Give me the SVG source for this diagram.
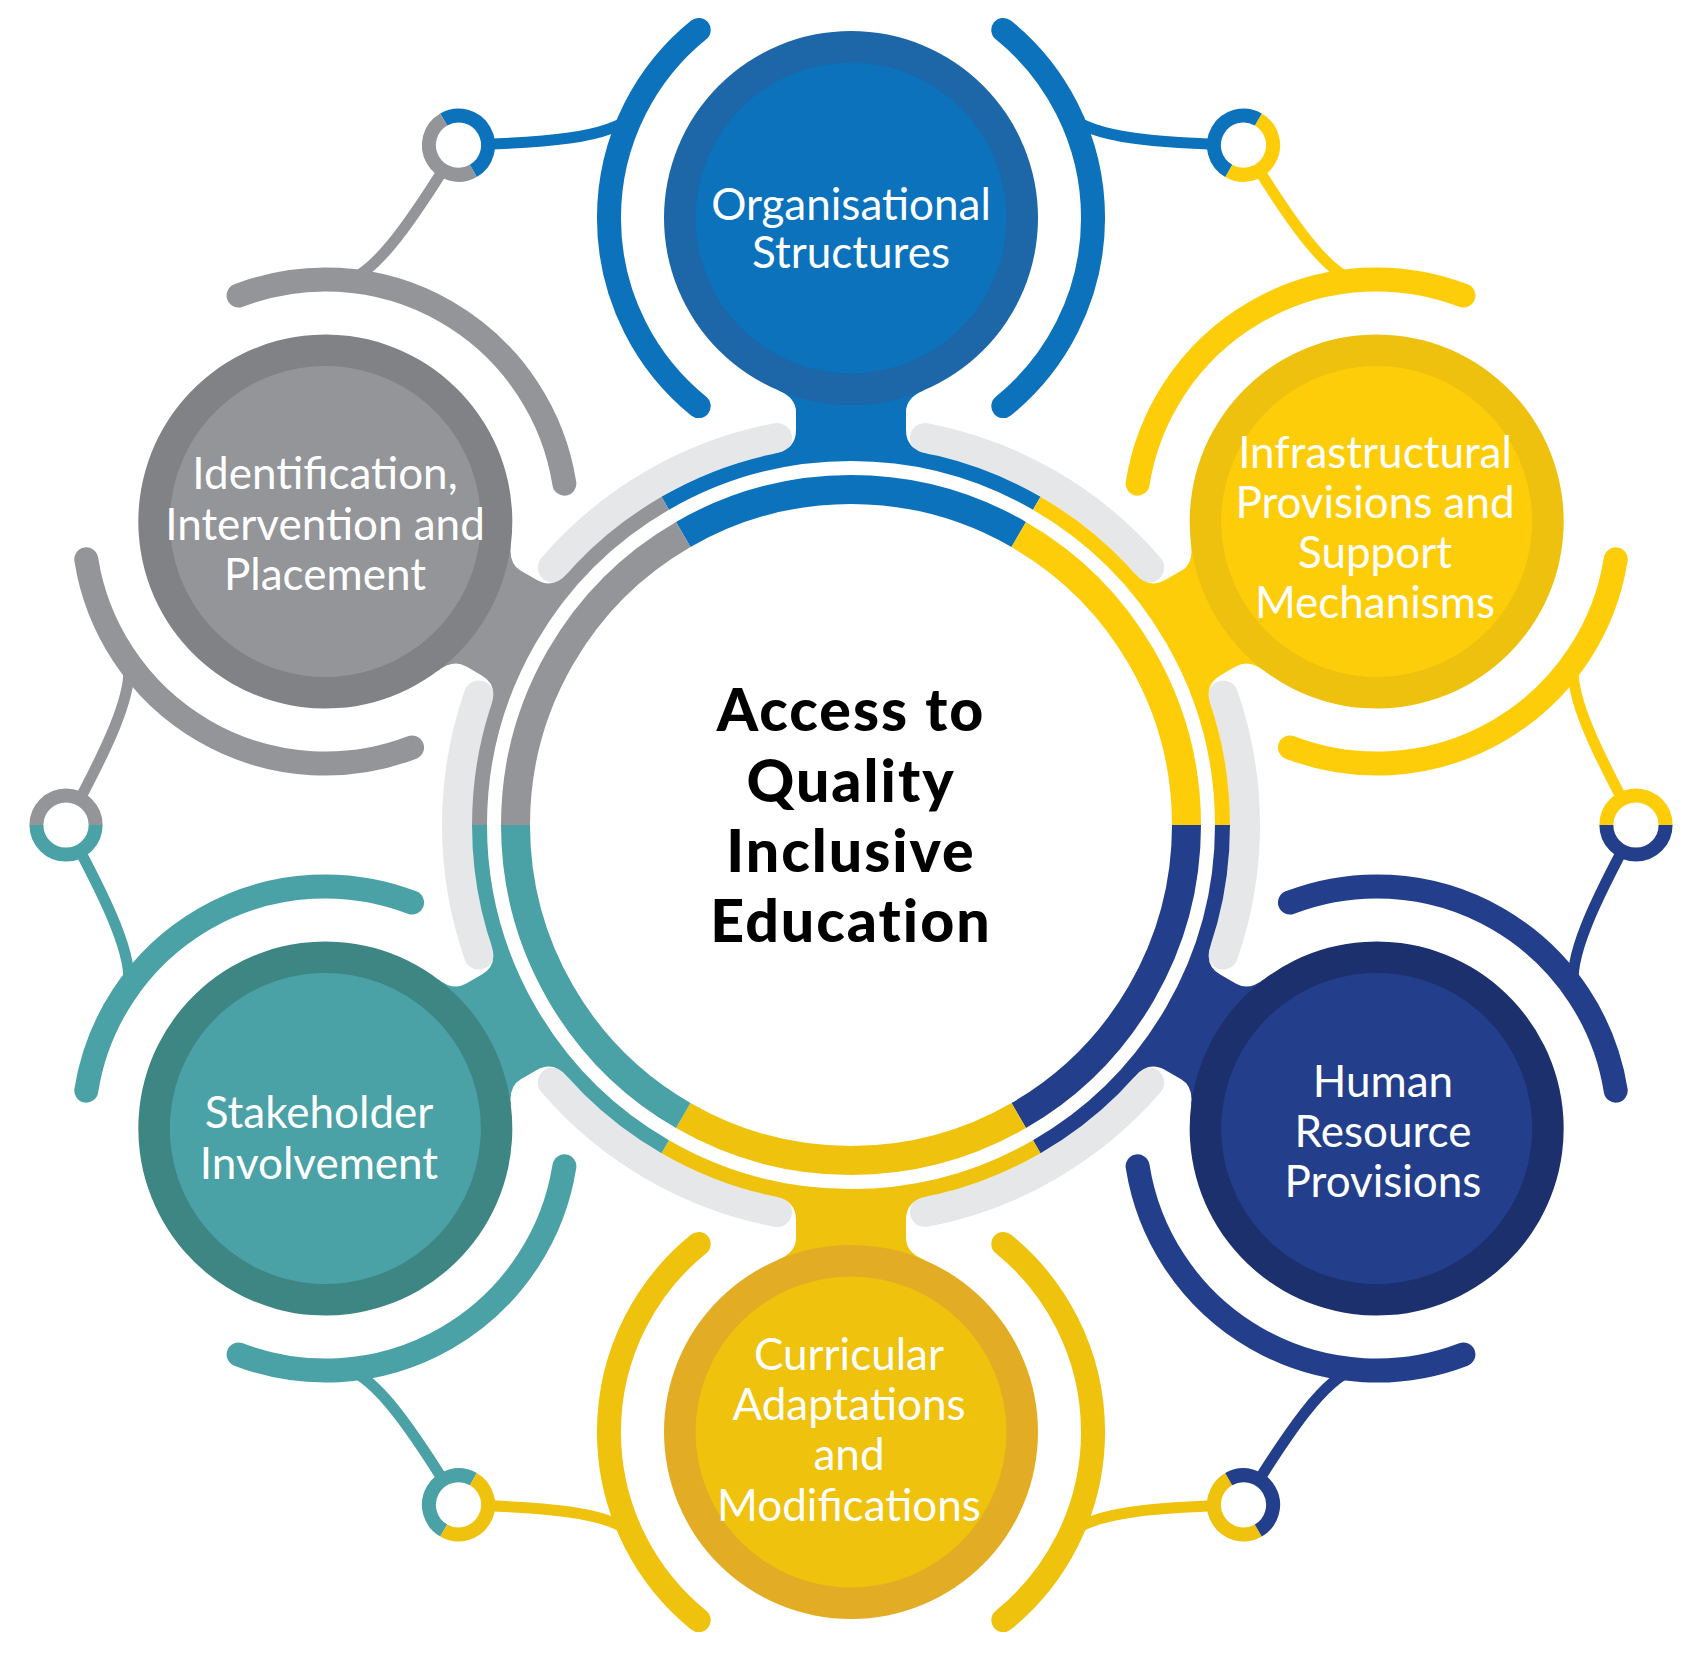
<svg xmlns="http://www.w3.org/2000/svg" width="1695" height="1677" viewBox="0 0 1695 1677">
<style>
.blue{color:#0b72bb}.yellow{color:#fdcd09}.navy{color:#233f8b}.gold{color:#eec20d}.teal{color:#4aa2a6}.gray{color:#939598}
.blue .outer{fill:#1d66a7}.yellow .outer{fill:#edc10e}.navy .outer{fill:#1c306d}.gold .outer{fill:#e2ad24}.teal .outer{fill:#3e8684}.gray .outer{fill:#808285}
.br{fill:none;stroke:currentColor;stroke-width:24;stroke-linecap:round}
.fill{fill:currentColor}
.b1{fill:none;stroke:currentColor;stroke-width:29}
.b2{fill:none;stroke:currentColor;stroke-width:15}
.lg{fill:none;stroke:#e6e7e8;stroke-width:30;stroke-linecap:round}
.cn{fill:none;stroke:currentColor;stroke-width:11;stroke-linecap:round}
.rh{fill:none;stroke:currentColor;stroke-width:14}
.hole{fill:#fff}
.lbl{font-family:Lato,'Liberation Sans',sans-serif;font-weight:400;font-size:44px;fill:#fff;text-anchor:middle}
.ctr{font-family:Lato,'Liberation Sans',sans-serif;font-weight:900;font-size:59px;letter-spacing:2px;fill:#000;text-anchor:middle}
</style>
<defs>
<path id="lgarc" class="lg" d="M 924.96 438 A 394 394 0 0 1 1149.2 567.5"/>
<path id="band1" class="b1" d="M 683.25 534.45 A 335.5 335.5 0 0 1 1018.75 534.45"/>
<path id="band2" class="b2" d="M 665.25 503.27 A 371.5 371.5 0 0 1 1036.75 503.27"/>
<path id="stem" class="fill" d="M 778 390.2 Q 796 397.6 796 412 L 796 430 Q 796 449.4 775 453.7 L 775 460.8 A 372 372 0 0 1 927 460.8 L 927 453.7 Q 906 449.4 906 430 L 906 412 Q 906 397.6 924 390.2 Z"/>
<path id="brL" class="br" d="M 698.7 29.9 A 242 242 0 0 0 698.7 406.1"/>
<path id="brR" class="br" d="M 1003.3 29.9 A 242 242 0 0 1 1003.3 406.1"/>
<path id="conA" class="cn" d="M 458.5 145.2 C 545 143 610 138 632 116"/>
<path id="halfA" class="rh" d="M 443.7 119.56 A 29.6 29.6 0 0 1 473.3 170.84"/>
<path id="halfB" class="rh" d="M 443.7 119.56 A 29.6 29.6 0 0 0 473.3 170.84"/>
</defs>
<rect width="1695" height="1677" fill="#fff"/>
<g id="hub">
<g id="light-ring">
<use href="#lgarc"/>
<use href="#lgarc" transform="rotate(60 851 825)"/>
<use href="#lgarc" transform="rotate(120 851 825)"/>
<use href="#lgarc" transform="rotate(180 851 825)"/>
<use href="#lgarc" transform="rotate(240 851 825)"/>
<use href="#lgarc" transform="rotate(300 851 825)"/>
</g>
<g id="segments">
<g class="blue"><use href="#band1"/><use href="#band2"/></g>
<g class="yellow" transform="rotate(60 851 825)"><use href="#band1"/><use href="#band2"/></g>
<g class="navy" transform="rotate(120 851 825)"><use href="#band1"/><use href="#band2"/></g>
<g class="gold" transform="rotate(180 851 825)"><use href="#band1"/><use href="#band2"/></g>
<g class="teal" transform="rotate(240 851 825)"><use href="#band1"/><use href="#band2"/></g>
<g class="gray" transform="rotate(300 851 825)"><use href="#band1"/><use href="#band2"/></g>
</g>
<g id="center-label">
<text class="ctr" x="851" y="731">Access to</text>
<text class="ctr" x="851" y="802">Quality</text>
<text class="ctr" x="851" y="872">Inclusive</text>
<text class="ctr" x="851" y="942">Education</text>
</g>
</g>
<g id="node-organisational" class="blue">
<g><use href="#stem"/><circle class="outer" cx="851" cy="218" r="187"/><circle class="fill" cx="851" cy="218" r="155.5"/><use href="#brL"/><use href="#brR"/></g>
<text class="lbl" x="851" y="220">Organisational</text>
<text class="lbl" x="851" y="268">Structures</text>
</g>
<g id="node-infrastructural" class="yellow">
<g transform="rotate(60 851 825)"><use href="#stem"/><circle class="outer" cx="851" cy="218" r="187"/><circle class="fill" cx="851" cy="218" r="155.5"/><use href="#brL"/><use href="#brR"/></g>
<text class="lbl" x="1375" y="468">Infrastructural</text>
<text class="lbl" x="1375" y="518">Provisions and</text>
<text class="lbl" x="1375" y="568">Support</text>
<text class="lbl" x="1375" y="618">Mechanisms</text>
</g>
<g id="node-human-resource" class="navy">
<g transform="rotate(120 851 825)"><use href="#stem"/><circle class="outer" cx="851" cy="218" r="187"/><circle class="fill" cx="851" cy="218" r="155.5"/><use href="#brL"/><use href="#brR"/></g>
<text class="lbl" x="1383" y="1097">Human</text>
<text class="lbl" x="1383" y="1147">Resource</text>
<text class="lbl" x="1383" y="1197">Provisions</text>
</g>
<g id="node-curricular" class="gold">
<g transform="rotate(180 851 825)"><use href="#stem"/><circle class="outer" cx="851" cy="218" r="187"/><circle class="fill" cx="851" cy="218" r="155.5"/><use href="#brL"/><use href="#brR"/></g>
<text class="lbl" x="849" y="1370">Curricular</text>
<text class="lbl" x="849" y="1420">Adaptations</text>
<text class="lbl" x="849" y="1470">and</text>
<text class="lbl" x="849" y="1521">Modifications</text>
</g>
<g id="node-stakeholder" class="teal">
<g transform="rotate(240 851 825)"><use href="#stem"/><circle class="outer" cx="851" cy="218" r="187"/><circle class="fill" cx="851" cy="218" r="155.5"/><use href="#brL"/><use href="#brR"/></g>
<text class="lbl" x="319" y="1128">Stakeholder</text>
<text class="lbl" x="319" y="1179">Involvement</text>
</g>
<g id="node-identification" class="gray">
<g transform="rotate(300 851 825)"><use href="#stem"/><circle class="outer" cx="851" cy="218" r="187"/><circle class="fill" cx="851" cy="218" r="155.5"/><use href="#brL"/><use href="#brR"/></g>
<text class="lbl" x="325" y="489">Identification,</text>
<text class="lbl" x="325" y="540">Intervention and</text>
<text class="lbl" x="325" y="590">Placement</text>
</g>
<g id="connectors">
<g><use class="blue" href="#conA"/><use class="gray" href="#conA" transform="translate(851 825) rotate(-120) scale(1 -1) rotate(120) translate(-851 -825)"/><circle class="hole" cx="458.5" cy="145.2" r="29.6"/><use class="blue" href="#halfA"/><use class="gray" href="#halfB"/></g>
<g transform="rotate(60 851 825)"><use class="yellow" href="#conA"/><use class="blue" href="#conA" transform="translate(851 825) rotate(-120) scale(1 -1) rotate(120) translate(-851 -825)"/><circle class="hole" cx="458.5" cy="145.2" r="29.6"/><use class="yellow" href="#halfA"/><use class="blue" href="#halfB"/></g>
<g transform="rotate(120 851 825)"><use class="navy" href="#conA"/><use class="yellow" href="#conA" transform="translate(851 825) rotate(-120) scale(1 -1) rotate(120) translate(-851 -825)"/><circle class="hole" cx="458.5" cy="145.2" r="29.6"/><use class="navy" href="#halfA"/><use class="yellow" href="#halfB"/></g>
<g transform="rotate(180 851 825)"><use class="gold" href="#conA"/><use class="navy" href="#conA" transform="translate(851 825) rotate(-120) scale(1 -1) rotate(120) translate(-851 -825)"/><circle class="hole" cx="458.5" cy="145.2" r="29.6"/><use class="gold" href="#halfA"/><use class="navy" href="#halfB"/></g>
<g transform="rotate(240 851 825)"><use class="teal" href="#conA"/><use class="gold" href="#conA" transform="translate(851 825) rotate(-120) scale(1 -1) rotate(120) translate(-851 -825)"/><circle class="hole" cx="458.5" cy="145.2" r="29.6"/><use class="teal" href="#halfA"/><use class="gold" href="#halfB"/></g>
<g transform="rotate(300 851 825)"><use class="gray" href="#conA"/><use class="teal" href="#conA" transform="translate(851 825) rotate(-120) scale(1 -1) rotate(120) translate(-851 -825)"/><circle class="hole" cx="458.5" cy="145.2" r="29.6"/><use class="gray" href="#halfA"/><use class="teal" href="#halfB"/></g>
</g>
</svg>
